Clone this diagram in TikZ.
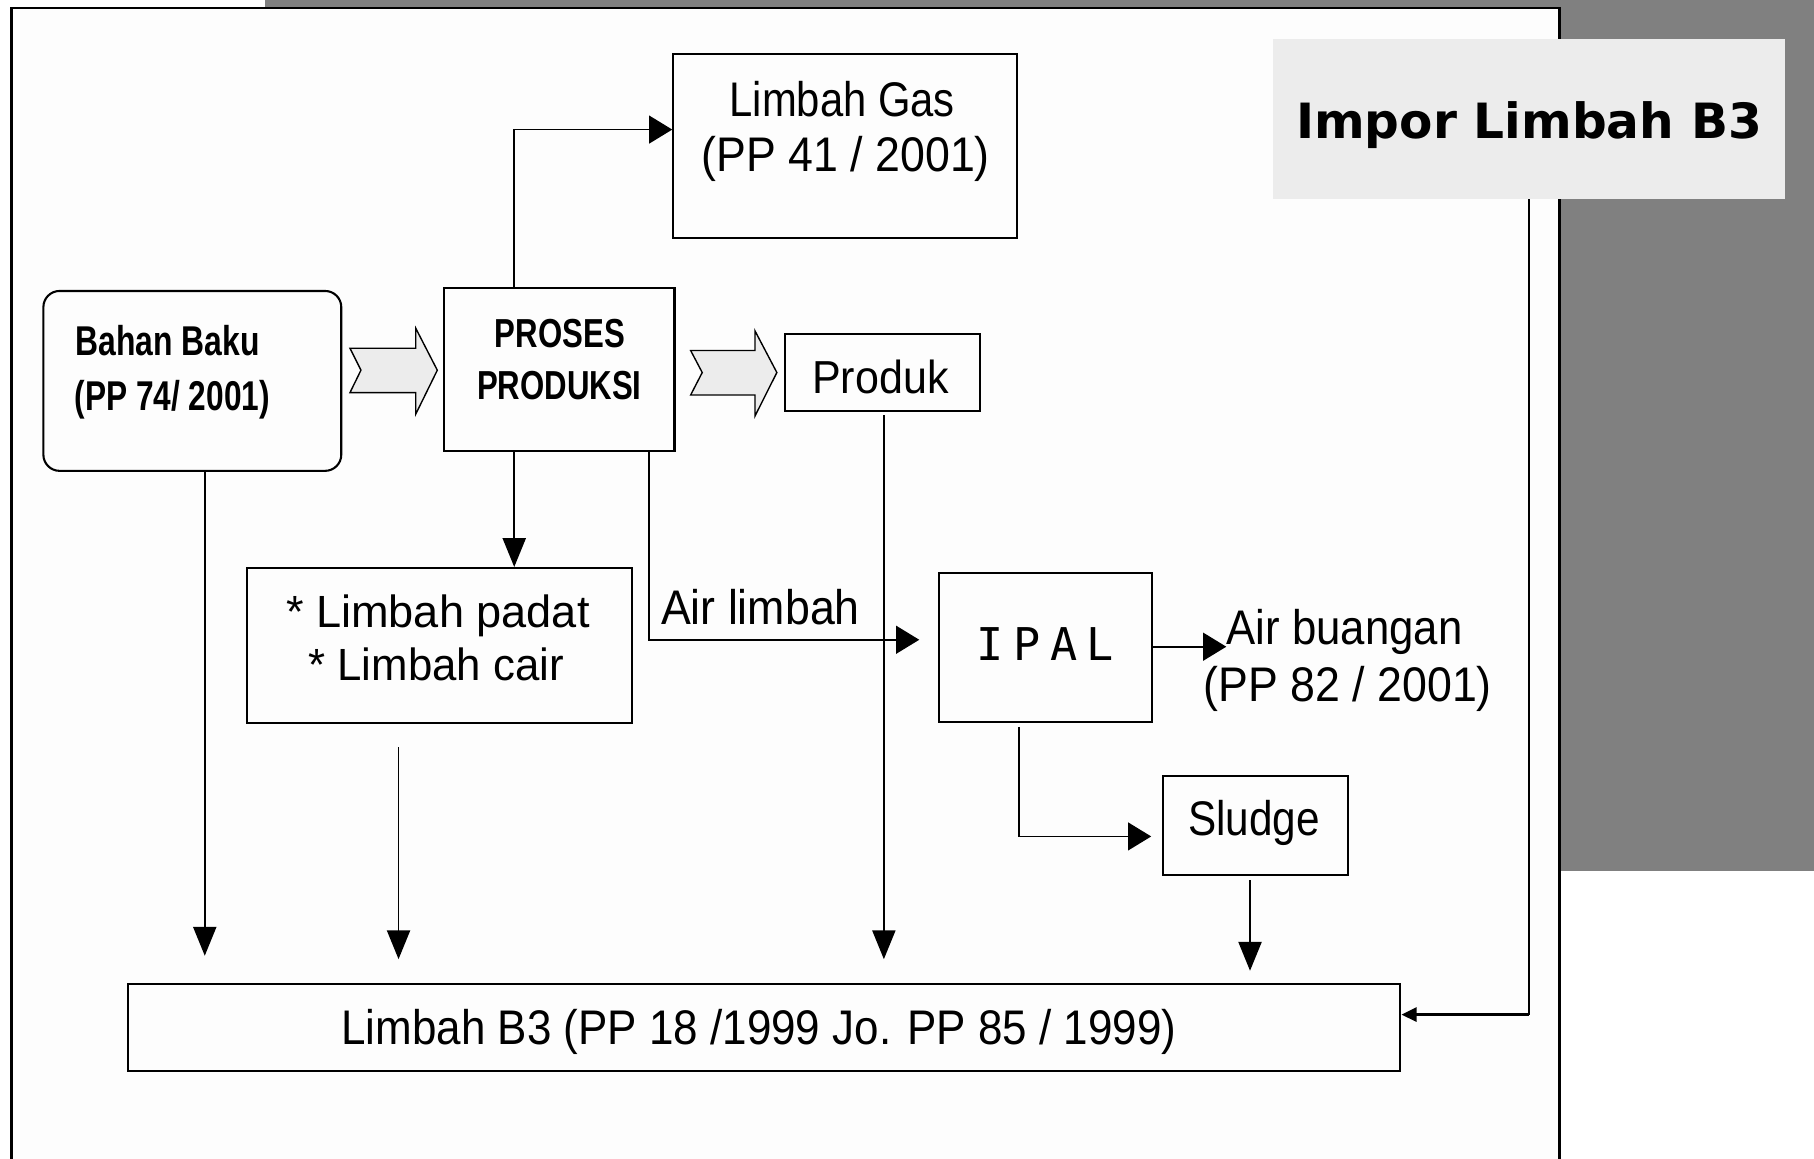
\documentclass[tikz,border=0pt]{standalone}
\usepackage{fontspec}
\usepackage{graphicx}
\setmainfont{Liberation Sans}
\newfontfamily\dvb{DejaVu Sans}
\newfontfamily\dvm{DejaVu Sans Mono}
\usetikzlibrary{arrows.meta,calc}
\newcommand\sqz[2]{\scalebox{#1}[1]{#2}}
\definecolor{framegray}{HTML}{808080}
\definecolor{titlefill}{HTML}{ECECEC}
\definecolor{paper}{HTML}{FDFDFD}
\definecolor{blockfill}{HTML}{ECECEC}
\tikzset{
  box/.style={draw, line width=0.9pt, inner sep=0pt},
  txt/.style={inner sep=0pt, anchor=base},
  txtl/.style={inner sep=0pt, anchor=base west},
  conn/.style={line width=0.8pt},
  varr/.style={conn, -{Triangle[length=12.5pt,width=10pt]}},
  harr/.style={conn, -{Triangle[length=10pt,width=12pt]}},
  tarr/.style={line width=1.3pt, -{Triangle[length=6.5pt,width=6pt]}},
  block/.style={fill=blockfill, draw, line width=0.6pt, line join=miter},
  fa/.style={font=\fontsize{21}{21}\selectfont},
}
\begin{document}
\begin{tikzpicture}[x=0.5pt,y=-0.5pt]
\useasboundingbox (0,0) rectangle (1568,1001);
\fill[white] (0,0) rectangle (1568,1001);
\fill[framegray] (229,0) rectangle (1568,6);
\fill[framegray] (1348,0) rectangle (1568,753);
\draw[fill=paper, line width=1pt] (10,1010) -- (10,7) -- (1348,7) -- (1348,1010);

% boxes
\node[box, minimum width=148.5pt, minimum height=79.7pt] (gas) at (730.5,126.4) {};
\node[box, minimum width=99.5pt, minimum height=70.5pt] (pp) at (483.5,319.5) {};
\node[box, rounded corners=7pt, minimum width=128.75pt, minimum height=77.75pt] (bb) at (166.25,329.25) {};
\node[box, minimum width=84.25pt, minimum height=33pt] (produk) at (762.75,322) {};
\node[box, minimum width=166.25pt, minimum height=67pt] (padat) at (379.75,558) {};
\node[box, minimum width=92.25pt, minimum height=64.5pt] (ipal) at (903.75,559.5) {};
\node[box, minimum width=80pt, minimum height=42.5pt] (sludge) at (1085,713.5) {};
\node[box, minimum width=549.75pt, minimum height=37.75pt] (b3) at (660.75,888.25) {};
\node[fill=titlefill, inner sep=0pt, minimum width=221.5pt, minimum height=69.15pt] (title) at (1321.5,102.85) {};

% texts
\node[txt, fa] (gasA) at (728,101) {\sqz{0.86}{Limbah Gas}};
\node[txt, fa] (gasB) at (731,148.5) {\sqz{0.92}{(PP 41 / 2001)}};
\node[txt, font=\fontsize{17.5}{17.5}\selectfont\bfseries] (ppA) at (484,300) {\sqz{0.77}{PROSES}};
\node[txt, font=\fontsize{17.5}{17.5}\selectfont\bfseries] (ppB) at (483.5,345) {\sqz{0.77}{PRODUKSI}};
\node[txtl, font=\fontsize{18}{18}\selectfont\bfseries] (bbA) at (65,307) {\sqz{0.765}{Bahan Baku}};
\node[txtl, font=\fontsize{18}{18}\selectfont\bfseries] (bbB) at (64,355) {\sqz{0.76}{(PP 74/ 2001)}};
\node[txt, font=\fontsize{20}{20}\selectfont] (produkT) at (761,340) {\sqz{0.93}{Produk}};
\node[txtl, fa] (airl) at (571,540) {\sqz{0.92}{Air limbah}};
\node[txt, font=\dvm\fontsize{19.5}{19.5}\selectfont] (ipalT) at (903.5,570.5) {I\hspace{4.2pt}P\hspace{4.2pt}A\hspace{4.2pt}L};
\node[txtl, fa] (airbA) at (1060,557.5) {\sqz{0.9}{Air buangan}};
\node[txtl, fa] (airbB) at (1040,606.5) {\sqz{0.92}{(PP 82 / 2001)}};
\node[txt, font=\fontsize{19.5}{19.5}\selectfont] (padatA) at (378.5,542) {\sqz{1.0}{* Limbah padat}};
\node[txt, font=\fontsize{19.5}{19.5}\selectfont] (padatB) at (377,588) {\sqz{0.97}{* Limbah cair}};
\node[txt, fa] (sludgeT) at (1084,722) {\sqz{0.87}{Sludge}};
\node[txt, fa] (b3T) at (656,903) {\sqz{0.905}{Limbah B3 (PP 18 /1999 Jo. PP 85 / 1999)}};
\node[txt, font=\dvb\bfseries\fontsize{21}{21}\selectfont] (titleT) at (1321.75,119.5) {Impor Limbah B3};

% block arrows
\draw[block] (302.5,301) -- (359.4,301) -- (359.4,283.8) -- (378,320) -- (359.4,357.9) -- (359.4,339.4) -- (302.5,339.4) -- (312,320) -- cycle;
\draw[block] (597,303) -- (652.6,303) -- (652.6,286) -- (671.5,322) -- (652.6,359.6) -- (652.6,341.4) -- (597,341.4) -- (607,322) -- cycle;

% connectors
\coordinate (k1) at (444.5,112);
\draw[harr] (pp.north -| k1) -- (k1) -- (gas.west |- k1);
\draw[varr] (pp.south -| k1) -- (padat.north -| k1);
\coordinate (k2) at (561,553);
\draw[harr, shorten >=8pt] (pp.south -| k2) -- (k2) -- (ipal.west |- k2);
\coordinate (k3) at (764,358);
\draw[varr, shorten <=1.5pt, shorten >=10.25pt] (produk.south -| k3) -- (b3.north -| k3);
\coordinate (k4) at (177,827);
\draw[varr, shorten >=11.75pt] (bb.south -| k4) -- (b3.north -| k4);
\coordinate (k5) at (344.5,645);
\draw[varr, shorten <=10pt, shorten >=10.25pt] (padat.south -| k5) -- (b3.north -| k5);
\coordinate (k6) at (1060,559);
\draw[harr] (ipal.east |- k6) -- (airbA.west |- k6);
\coordinate (k7) at (881,723);
\draw[harr, shorten <=1.75pt, shorten >=4.5pt] (ipal.south -| k7) -- (k7) -- (sludge.west |- k7);
\coordinate (k8) at (1080.5,760);
\draw[varr, shorten <=2pt, shorten >=5.25pt] (sludge.south -| k8) -- (b3.north -| k8);
\coordinate (k9) at (1321.5,877);
\draw[conn] (title.south) -- (k9);
\draw[tarr] (k9) -- (b3.east |- k9);
\end{tikzpicture}
\end{document}
